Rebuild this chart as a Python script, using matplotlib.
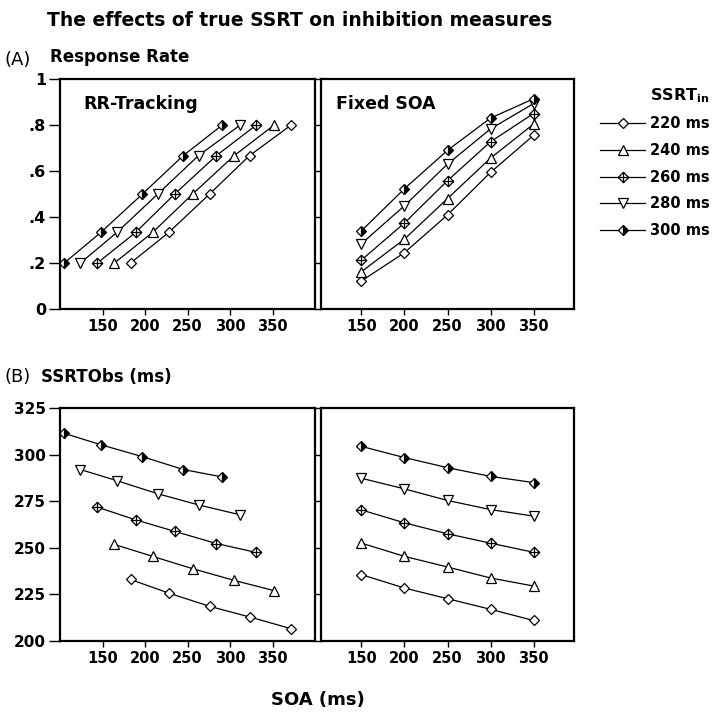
import numpy as np
import matplotlib.pyplot as plt
from matplotlib.path import Path

plt.rcParams['font.family'] = 'DejaVu Sans'

ssrt_in = ['220 ms', '240 ms', '260 ms', '280 ms', '300 ms']
soa_fixed = [150, 200, 250, 300, 350]
rr_levels = [0.2, 0.333, 0.5, 0.667, 0.8]

# SOA values produced by the RR-tracking procedure (one row per SSRT_in)
soa_track_220 = [183, 228, 276, 323, 372]
soa_track_240 = [164, 209, 256, 305, 352]
soa_track_260 = [144, 189, 235, 284, 331]
soa_track_280 = [124, 167, 215, 263, 312]
soa_track_300 = [105, 148, 197, 245, 291]

# response rate with fixed SOAs
rr_fixed_220 = [0.122, 0.245, 0.409, 0.594, 0.755]
rr_fixed_240 = [0.162, 0.304, 0.480, 0.656, 0.804]
rr_fixed_260 = [0.213, 0.374, 0.558, 0.727, 0.850]
rr_fixed_280 = [0.284, 0.449, 0.630, 0.783, 0.893]
rr_fixed_300 = [0.340, 0.523, 0.690, 0.830, 0.914]

# observed SSRT, RR-tracking
obs_track_220 = [233.0, 225.7, 218.6, 212.9, 206.6]
obs_track_240 = [251.8, 245.4, 238.8, 232.5, 227.0]
obs_track_260 = [271.8, 265.0, 258.8, 252.3, 247.5]
obs_track_280 = [292.0, 286.0, 279.0, 273.0, 267.7]
obs_track_300 = [311.4, 305.3, 298.9, 292.0, 288.0]

# observed SSRT, fixed SOA
obs_fixed_220 = [235.6, 228.4, 222.7, 217.0, 211.0]
obs_fixed_240 = [252.5, 245.4, 239.7, 233.8, 229.5]
obs_fixed_260 = [270.3, 263.4, 257.5, 252.5, 247.6]
obs_fixed_280 = [287.3, 281.6, 275.4, 270.5, 267.0]
obs_fixed_300 = [304.4, 298.4, 293.0, 288.3, 285.0]

soa_track = [soa_track_220, soa_track_240, soa_track_260, soa_track_280, soa_track_300]
rr_fixed = [rr_fixed_220, rr_fixed_240, rr_fixed_260, rr_fixed_280, rr_fixed_300]
obs_track = [obs_track_220, obs_track_240, obs_track_260, obs_track_280, obs_track_300]
obs_fixed = [obs_fixed_220, obs_fixed_240, obs_fixed_260, obs_fixed_280, obs_fixed_300]

# diamond with a cross inside
dia = Path([(0, 1), (1, 0), (0, -1), (-1, 0), (0, 1)],
           [Path.MOVETO, Path.LINETO, Path.LINETO, Path.LINETO, Path.CLOSEPOLY])
cross = Path([(-1, 0), (1, 0), (0, -1), (0, 1)],
             [Path.MOVETO, Path.LINETO, Path.MOVETO, Path.LINETO])
dplus = Path.make_compound_path(dia, cross)

styles = [
    dict(marker='D', markersize=5.5, markerfacecolor='white'),
    dict(marker='^', markersize=7.5, markerfacecolor='white'),
    dict(marker=dplus, markersize=7.5, markerfacecolor='white'),
    dict(marker='v', markersize=7.5, markerfacecolor='white'),
    dict(marker='D', markersize=5.5, markerfacecolor='black', fillstyle='right',
         markerfacecoloralt='white'),
]

W, H = 718, 717
fig = plt.figure(figsize=(W / 100, H / 100), dpi=100)


def add_ax(x0, y0, x1, y1):
    return fig.add_axes([x0 / W, 1 - y1 / H, (x1 - x0) / W, (y1 - y0) / H])


ax_a1 = add_ax(60, 79, 315, 309)
ax_a2 = add_ax(321, 79, 574, 309)
ax_b1 = add_ax(60, 408, 315, 641)
ax_b2 = add_ax(321, 408, 574, 641)

tfont = dict(fontsize=10.5, fontweight='bold')

for i in range(5):
    kw = dict(color='black', lw=0.9, markeredgecolor='black', markeredgewidth=0.9, clip_on=False)
    ax_a1.plot(soa_track[i], rr_levels, label=ssrt_in[i], **kw, **styles[i])
    ax_a2.plot(soa_fixed, rr_fixed[i], **kw, **styles[i])
    ax_b1.plot(soa_track[i], obs_track[i], **kw, **styles[i])
    ax_b2.plot(soa_fixed, obs_fixed[i], **kw, **styles[i])

for ax in [ax_a1, ax_a2, ax_b1, ax_b2]:
    for s in ax.spines.values():
        s.set_linewidth(1.6)
    ax.set_xticks(soa_fixed)
    ax.set_xticklabels([str(v) for v in soa_fixed], **tfont)
    ax.tick_params(axis='x', direction='out', length=4, width=1, pad=3)

ax_a1.set_xlim(100, 400)
ax_b1.set_xlim(100, 400)
ax_a2.set_xlim(103, 397)
ax_b2.set_xlim(103, 397)

ax_a1.set_ylim(0, 1)
ax_a2.set_ylim(0, 1)
ax_a1.set_yticks([0, 0.2, 0.4, 0.6, 0.8, 1])
ax_a1.set_yticklabels(['0', '.2', '.4', '.6', '.8', '1'], fontsize=11.5, fontweight='bold')
ax_a2.set_yticks([0, 0.2, 0.4, 0.6, 0.8, 1])
ax_a2.set_yticklabels([])

ax_b1.set_ylim(200, 325)
ax_b2.set_ylim(200, 325)
ax_b1.set_yticks([200, 225, 250, 275, 300, 325])
ax_b1.set_yticklabels(['200', '225', '250', '275', '300', '325'], fontsize=11, fontweight='bold')
ax_b2.set_yticks([200, 225, 250, 275, 300, 325])
ax_b2.set_yticklabels([])

for ax in [ax_a1, ax_b1]:
    ax.tick_params(axis='y', direction='out', length=8, width=1, pad=2)
for ax in [ax_a2, ax_b2]:
    ax.tick_params(axis='y', direction='out', length=4.5, width=1)

ax_a1.text(0.09, 0.87, 'RR-Tracking', transform=ax_a1.transAxes, fontsize=12.5, fontweight='bold')
ax_a2.text(0.06, 0.87, 'Fixed SOA', transform=ax_a2.transAxes, fontsize=12.5, fontweight='bold')

fig.text(47 / W, 1 - 20 / H, 'The effects of true SSRT on inhibition measures',
         fontsize=13.5, fontweight='bold', va='center')
fig.text(5 / W, 1 - 60 / H, '(A)', fontsize=13, va='center')
fig.text(50 / W, 1 - 57 / H, 'Response Rate', fontsize=12, fontweight='bold', va='center')
fig.text(5 / W, 1 - 377 / H, '(B)', fontsize=13, va='center')
fig.text(41 / W, 1 - 377 / H, 'SSRTObs (ms)', fontsize=12, fontweight='bold', va='center')
fig.text(318 / W, 1 - 700 / H, 'SOA (ms)', fontsize=13, fontweight='bold', ha='center', va='center')

handles, labels = ax_a1.get_legend_handles_labels()
leg = fig.legend(handles, labels, loc='upper left', bbox_to_anchor=(587 / W, 1 - 73 / H),
                 frameon=False, title='SSRT$_{\\mathregular{in}}$', handlelength=3.1,
                 handletextpad=0.3, labelspacing=0.8, prop=dict(size=10.5, weight='bold'))
leg.get_title().set_fontweight('bold')
leg.get_title().set_fontsize(11.5)
leg._legend_box.align = 'right'

fig.savefig('out.png', dpi=100)
